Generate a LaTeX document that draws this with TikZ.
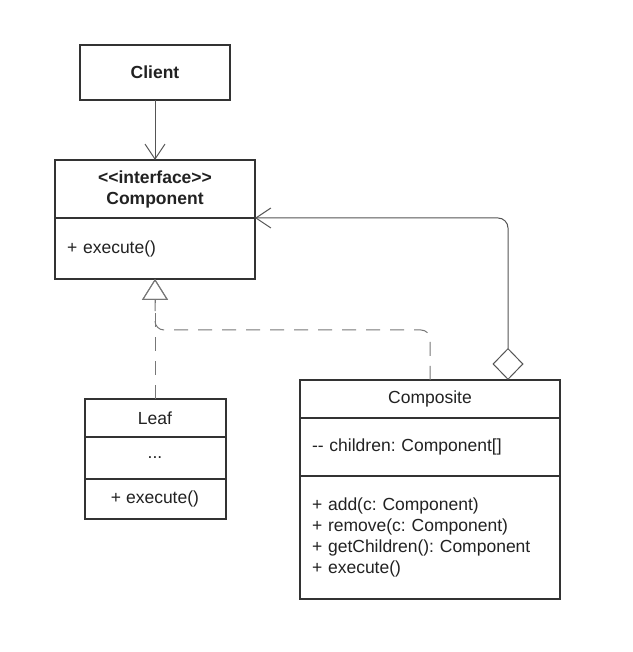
\documentclass[tikz,border=0pt]{standalone}
\usepackage{fontspec}
\setmainfont{Liberation Sans}
\usetikzlibrary{arrows.meta}
\definecolor{borde}{HTML}{333333}
\definecolor{conector}{HTML}{555555}
\definecolor{guion}{HTML}{777777}
\definecolor{texto}{HTML}{222222}
\frenchspacing
\begin{document}
\begin{tikzpicture}[   % opciones por defecto
  x=1pt, y=1pt,        % una unidad = un punto (pixel de la imagen)
  line width=1pt,      % conectores finos
  text=texto,          % texto casi negro
  font=\fontsize{17.5}{21}\selectfont
]
  \tikzstyle{caja}=[draw=borde, line width=2pt, inner xsep=12pt, inner ysep=0pt, outer sep=0pt];
  \tikzstyle{compo}=[caja, minimum width=200pt];
  \tikzstyle{hoja}=[caja, minimum width=141pt];
  \tikzstyle{compu}=[caja, minimum width=260pt];
  \tikzstyle{negrita}=[font=\fontsize{17.5}{21}\selectfont\bfseries];
  \tikzstyle{flecha}=[draw=conector, -{Straight Barb[length=15pt,width=20pt]}];
  \tikzstyle{agrega}=[draw=conector, rounded corners=10pt,
    {Diamond[open,length=32pt,width=31pt]}-{Straight Barb[length=15pt,width=20pt]}];
  \tikzstyle{realiza}=[draw=guion, dash pattern=on 14pt off 10pt, rounded corners=9pt,
    -{Triangle[open,length=21pt,width=26pt]}];
  %
  % fondo y marco de la imagen
  \fill[white] (0,0) rectangle (632,652);
  \useasboundingbox (0,0) rectangle (632,652);
  %
  % cliente
  \node [caja, negrita, minimum width=150pt, minimum height=55pt] (cliente) at (155,579.5) {Client};
  %
  % interfaz componente
  \node [compo, negrita, minimum height=58pt, align=center] (cabcompo) at (155,463)
    {<\kern0pt<interface>\kern0pt>\\Component};
  \node [compo, minimum height=61pt, text width=176pt, align=left, anchor=north]
    (cuerpocompo) at (cabcompo.south) {+ execute()};
  %
  % hoja
  \node [hoja, minimum height=38pt] (cabhoja) at (155,234) {Leaf};
  \node [hoja, minimum height=42pt, anchor=north] (atrhoja) at (cabhoja.south) {...};
  \node [hoja, minimum height=40pt, anchor=north] (methoja) at (atrhoja.south) {+ execute()};
  %
  % compuesto
  \node [compu, minimum height=38pt] (cabcompu) at (430,253) {Composite};
  \node [compu, minimum height=58pt, text width=236pt, align=left, anchor=north]
    (atrcompu) at (cabcompu.south) {-\kern0pt- children: Component[]};
  \node [compu, minimum height=123pt, text width=236pt, align=left, anchor=north]
    (metcompu) at (atrcompu.south)
    {+ add(c: Component)\\+ remove(c: Component)\\+ getChildren(): Component\\+ execute()};
  %
  % cliente usa componente
  \draw[flecha] (cliente) -- (cabcompo);
  %
  % agregacion compuesto - componente
  \draw[agrega] ([xshift=78pt]cabcompu.north) |- (cuerpocompo.north east);
  %
  % realizacion de la interfaz
  \draw[realiza] (cabhoja.north) -- (cuerpocompo.south);
  \draw[realiza] (cabcompu.north) -- ++(0,50) -| (cuerpocompo.south);
\end{tikzpicture}
\end{document}
